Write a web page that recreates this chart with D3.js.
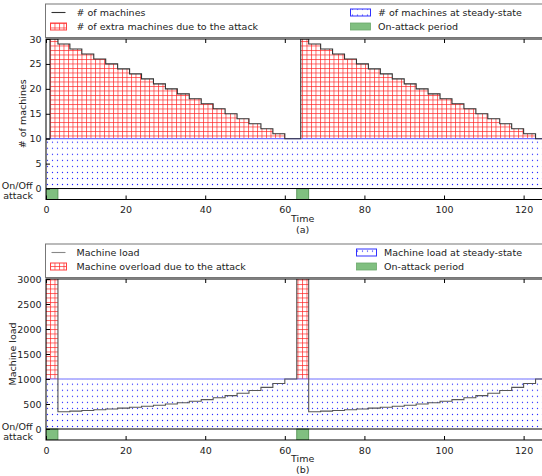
<!DOCTYPE html>
<html>
<head>
<meta charset="utf-8">
<script src="https://cdn.jsdelivr.net/npm/d3@7"></script>
<style>
  html, body { margin: 0; padding: 0; background: #fff; }
  svg { display: block; }
  text { font-family: "DejaVu Sans", sans-serif; fill: #222; }
</style>
</head>
<body>
<svg id="chart" width="542" height="476"></svg>
<script>
// ---------------- DATA ----------------
const xTicks = [0, 20, 40, 60, 80, 100, 120];
const attackPeriods = [[0, 3], [63, 66]];

// Panel (a): number of machines (step changes)
const machineTimes  = [0, 1, 3, 6, 9, 12, 15, 18, 21, 24, 27, 30, 33, 36, 39, 42, 45, 48, 51, 54, 57, 60,
                       64, 66, 69, 72, 75, 78, 81, 84, 87, 90, 93, 96, 99, 102, 105, 108, 111, 114, 117, 120, 123, 126];
const machineValues = [10, 30, 29, 28, 27, 26, 25, 24, 23, 22, 21, 20, 19, 18, 17, 16, 15, 14, 13, 12, 11, 10,
                       30, 29, 28, 27, 26, 25, 24, 23, 22, 21, 20, 19, 18, 17, 16, 15, 14, 13, 12, 11, 10, 10];
const machineSteady = 10;
const machineYTicks = [0, 5, 10, 15, 20, 25, 30];

// Panel (b): machine load (step changes)
const loadTimes  = [0, 3, 6, 9, 12, 15, 18, 21, 24, 27, 30, 33, 36, 39, 42, 45, 48, 51, 54, 57, 60,
                    63, 66, 69, 72, 75, 78, 81, 84, 87, 90, 93, 96, 99, 102, 105, 108, 111, 114, 117, 120, 123, 126];
const loadValues = [5000, 345, 357, 370, 385, 400, 417, 435, 455, 476, 500, 526, 556, 588, 625, 667, 714, 769, 833, 909, 1000,
                    5000, 345, 357, 370, 385, 400, 417, 435, 455, 476, 500, 526, 556, 588, 625, 667, 714, 769, 833, 909, 1000, 1000];
const loadSteady = 1000;
const loadYTicks = [0, 500, 1000, 1500, 2000, 2500, 3000];

const legendA = ["# of machines", "# of extra machines due to the attack", "# of machines at steady-state", "On-attack period"];
const legendB = ["Machine load", "Machine overload due to the attack", "Machine load at steady-state", "On-attack period"];

// ---------------- DRAW ----------------
const svg = d3.select("#chart");
const defs = svg.append("defs");

const grid = defs.append("pattern").attr("id", "redgrid")
  .attr("patternUnits", "userSpaceOnUse").attr("width", 4.5).attr("height", 4.5)
  .attr("x", 0.5).attr("y", 0.5);
grid.append("rect").attr("width", 4.5).attr("height", 4.5).attr("fill", "#fff");
grid.append("path").attr("d", "M0,0.5H4.5M0.5,0V4.5").attr("stroke", "#ff2020")
  .attr("stroke-opacity", 0.75).attr("stroke-width", 0.9).attr("fill", "none");

const dots = defs.append("pattern").attr("id", "bluedots")
  .attr("patternUnits", "userSpaceOnUse").attr("width", 5).attr("height", 6.05)
  .attr("x", 0).attr("y", 0);
dots.append("rect").attr("width", 5).attr("height", 6.05).attr("fill", "#fff");
dots.append("circle").attr("cx", 2.5).attr("cy", 3).attr("r", 0.65).attr("fill", "#1a1aff");

const x0 = 46, x1 = 547.5;
const font = 9.5;

function panel(cfg) {
  const g = svg.append("g");
  const x = d3.scaleLinear().domain([0, 126]).range([x0, x1]);
  const y = d3.scaleLinear().domain(cfg.yDomain).range([cfg.bottom, cfg.top]);
  const clipId = "clip" + cfg.id;
  defs.append("clipPath").attr("id", clipId).append("rect")
    .attr("x", x0).attr("y", cfg.top).attr("width", x1 - x0).attr("height", cfg.bottom - cfg.top);
  const plot = g.append("g").attr("clip-path", `url(#${clipId})`);

  const pts = cfg.times.map((t, i) => [t, cfg.values[i]]);

  // steady-state band
  plot.append("rect").attr("x", x(0)).attr("width", x(126) - x(0))
    .attr("y", y(cfg.steady)).attr("height", y(0) - y(cfg.steady))
    .attr("fill", "url(#bluedots)");

  // extra region (between steady and series)
  const area = d3.area().curve(d3.curveStepAfter)
    .x(d => x(d[0])).y0(y(cfg.steady)).y1(d => y(Math.max(d[1], cfg.steady)));
  plot.append("path").datum(pts).attr("d", area).attr("fill", "url(#redgrid)");

  // steady line
  plot.append("line").attr("x1", x(0)).attr("x2", x(126))
    .attr("y1", y(cfg.steady)).attr("y2", y(cfg.steady))
    .attr("stroke", "#7070ff").attr("stroke-width", 1.2);

  // series step line
  const line = d3.line().curve(d3.curveStepAfter).x(d => x(d[0])).y(d => y(d[1]));
  plot.append("path").datum(pts).attr("d", line).attr("fill", "none")
    .attr("stroke", cfg.lineColor).attr("stroke-width", 1.1);

  // on/off attack band
  attackPeriods.forEach(p => {
    plot.append("rect").attr("x", x(p[0])).attr("width", x(p[1]) - x(p[0]))
      .attr("y", y(0)).attr("height", cfg.bottom - y(0))
      .attr("fill", "#80bf80").attr("stroke", "#4a8a4a").attr("stroke-width", 0.8);
  });
  plot.append("line").attr("x1", x0).attr("x2", x1).attr("y1", y(0)).attr("y2", y(0))
    .attr("stroke", "#000").attr("stroke-width", 1);

  // frame
  g.append("rect").attr("x", x0).attr("y", cfg.top).attr("width", x1 - x0).attr("height", cfg.bottom - cfg.top)
    .attr("fill", "none").attr("stroke", "#000").attr("stroke-width", 1);

  // x axis (bottom ticks inward, labels below)
  const xb = d3.axisBottom(x).tickValues(xTicks).tickSize(-4).tickPadding(7).tickFormat(d3.format("d"));
  const gx = g.append("g").attr("transform", `translate(0,${cfg.bottom})`).call(xb);
  gx.select(".domain").remove();
  gx.selectAll("line").attr("stroke", "#000");
  gx.selectAll("text").attr("font-size", font).attr("font-family", "DejaVu Sans").attr("fill", "#222");
  const xt = d3.axisTop(x).tickValues(xTicks).tickSize(-4).tickFormat("");
  const gxt = g.append("g").attr("transform", `translate(0,${cfg.top})`).call(xt);
  gxt.select(".domain").remove();
  gxt.selectAll("line").attr("stroke", "#000");

  // y axis
  const ya = d3.axisLeft(y).tickValues(cfg.yTicks).tickSize(-4).tickPadding(4.5).tickFormat(d3.format("d"));
  const gy = g.append("g").attr("transform", `translate(${x0},0)`).call(ya);
  gy.select(".domain").remove();
  gy.selectAll("line").attr("stroke", "#000");
  gy.selectAll("text").attr("font-size", font).attr("font-family", "DejaVu Sans").attr("fill", "#222");

  // On/Off attack label
  const lab = g.append("text").attr("text-anchor", "end").attr("font-size", 9.5);
  lab.append("tspan").attr("x", 32.5).attr("y", y(0) + 0.5).text("On/Off");
  lab.append("tspan").attr("x", 33).attr("y", y(0) + 10.5).text("attack");

  // y label
  g.append("text").attr("transform", `translate(${cfg.ylabX},${(cfg.top + y(0)) / 2}) rotate(-90)`)
    .attr("text-anchor", "middle").attr("font-size", font).text(cfg.ylabel);

  // x label & caption
  g.append("text").attr("x", x(64.5)).attr("y", cfg.bottom + 22).attr("text-anchor", "middle")
    .attr("font-size", font).text("Time");
  g.append("text").attr("x", x(64.5)).attr("y", cfg.bottom + 33).attr("text-anchor", "middle")
    .attr("font-size", font).text(cfg.caption);

  // legend
  const L = cfg.legend;
  const lg = svg.append("g");
  lg.append("rect").attr("x", 45.5).attr("y", cfg.legTop).attr("width", 510).attr("height", 33.5)
    .attr("fill", "#fff").attr("stroke", "#777").attr("stroke-width", 1);
  const r1 = cfg.legTop + 8.5, r2 = cfg.legTop + 22.5;
  lg.append("line").attr("x1", 51.5).attr("x2", 65.5).attr("y1", r1).attr("y2", r1)
    .attr("stroke", cfg.legLineColor).attr("stroke-width", 1.1);
  lg.append("rect").attr("x", 50.5).attr("y", r2 - 3.5).attr("width", 16).attr("height", 7)
    .attr("fill", "url(#redgrid)").attr("stroke", "#ff4040").attr("stroke-width", 1);
  lg.append("rect").attr("x", cfg.legC2).attr("y", r1 - 3.5).attr("width", 20).attr("height", 7)
    .attr("fill", "url(#bluedots)").attr("stroke", "#3030ff").attr("stroke-width", 1);
  lg.append("rect").attr("x", cfg.legC2).attr("y", r2 - 3.5).attr("width", 20).attr("height", 7)
    .attr("fill", "#80bf80").attr("stroke", "#6aa86a").attr("stroke-width", 0.8);
  const tx1 = 76.5, tx2 = cfg.legC2 + 27.5;
  [[tx1, r1, L[0]], [tx1, r2, L[1]], [tx2, r1, L[2]], [tx2, r2, L[3]]].forEach(d => {
    lg.append("text").attr("x", d[0]).attr("y", d[1]).attr("dy", "0.35em")
      .attr("font-size", 9.5).text(d[2]);
  });
}

panel({
  id: "a", top: 39, bottom: 199.5, yDomain: [-2.2, 30],
  times: machineTimes, values: machineValues, steady: machineSteady, yTicks: machineYTicks,
  lineColor: "#333", legLineColor: "#333", ylabel: "# of machines", ylabX: 26, caption: "(a)",
  legend: legendA, legTop: 4, legC2: 350.5
});
panel({
  id: "b", top: 279, bottom: 440, yDomain: [-220, 3000],
  times: loadTimes, values: loadValues, steady: loadSteady, yTicks: loadYTicks,
  lineColor: "#555", legLineColor: "#888", ylabel: "Machine load", ylabX: 16, caption: "(b)",
  legend: legendB, legTop: 244, legC2: 356.5
});
</script>
</body>
</html>
